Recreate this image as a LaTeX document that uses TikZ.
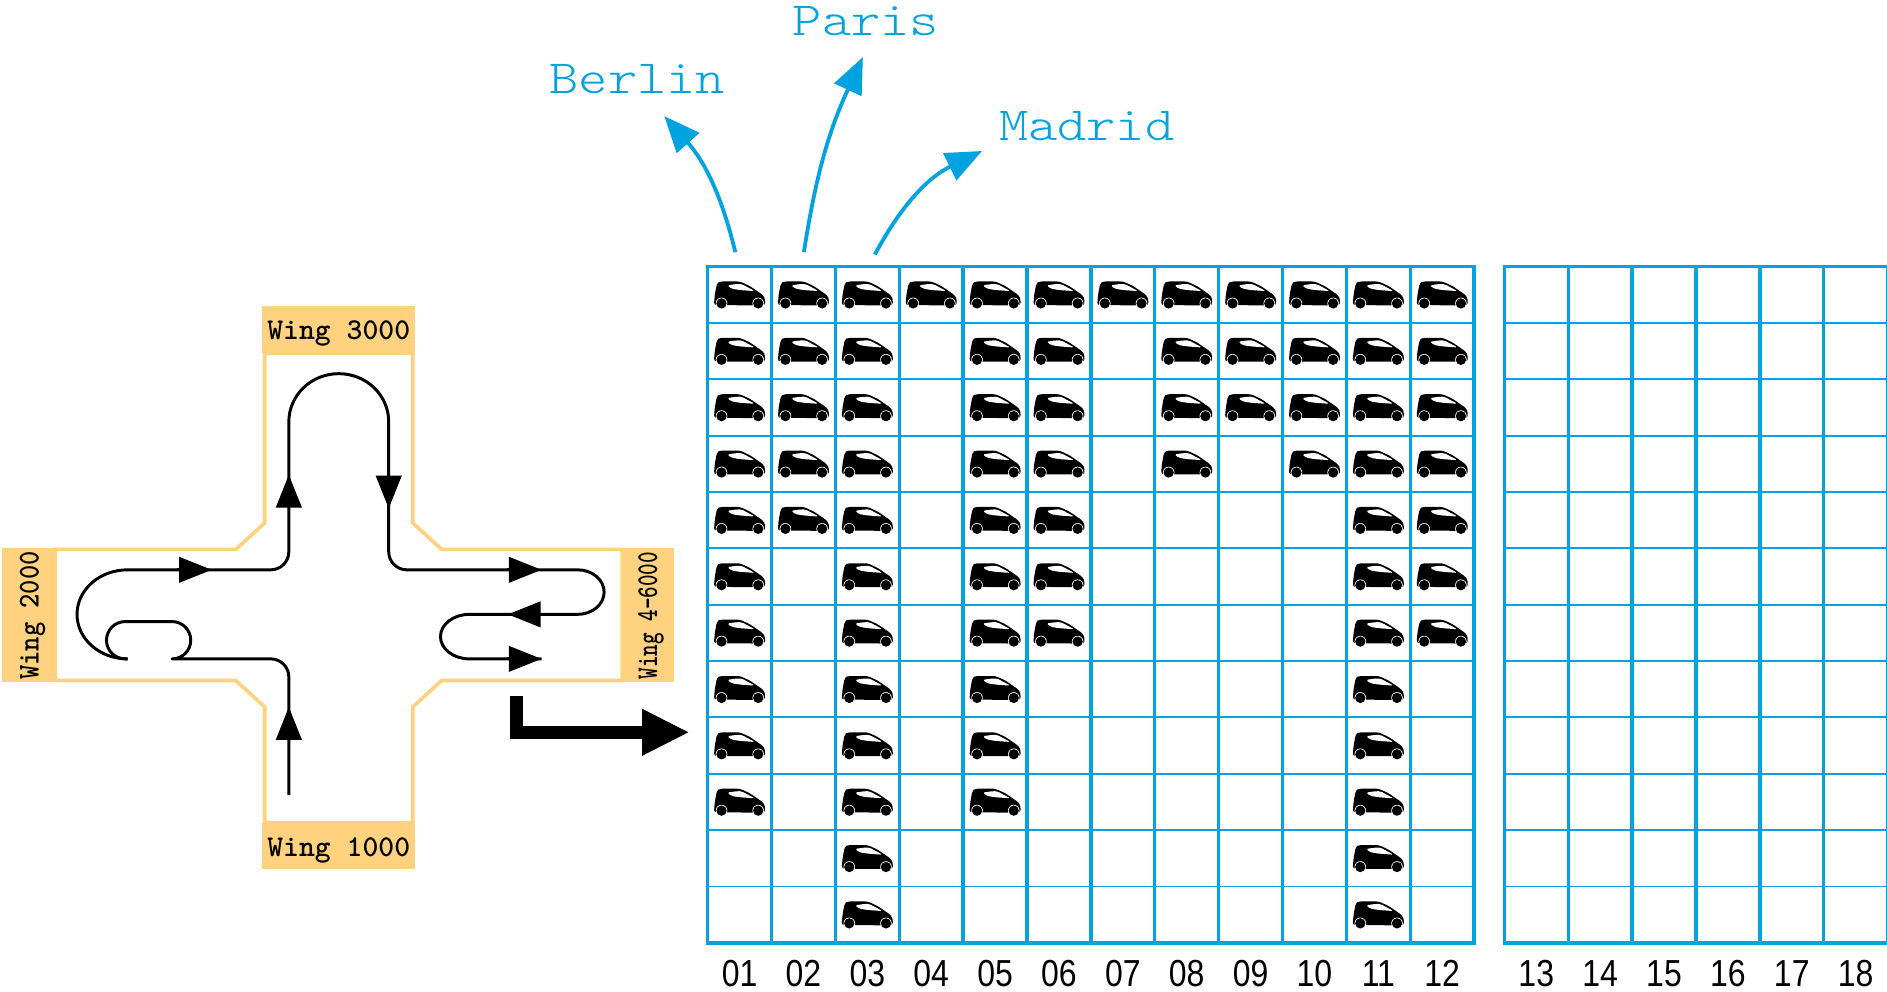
\documentclass[tikz,border=0pt]{standalone}
\usepackage{fontspec}
\usetikzlibrary{arrows.meta,calc,positioning}
\newfontfamily\colfont[FakeStretch=0.85]{Liberation Sans}
\definecolor{gridblue}{HTML}{00A3DF}
\definecolor{wingfill}{HTML}{FFD27F}
\tikzset{
	wingtext/.style={font=\fontsize{14.3}{16}\ttfamily\bfseries\addfontfeature{FakeBold=3},inner sep=0pt},
	citytext/.style={font=\fontsize{22.5}{26}\ttfamily\fontseries{l}\selectfont,text=gridblue,anchor=base,inner sep=0pt},
	coltext/.style={font=\fontsize{17.8}{20}\colfont,anchor=base,inner sep=0pt},
	flow/.style={line width=1.4pt,line join=round},
	flowtip/.style={line width=1.4pt,-{Triangle[length=15.5pt,width=12pt]}},
	cityarrow/.style={gridblue,line width=1.8pt,-{Triangle[length=17pt,width=14pt]}},
	exitarrow/.style={line width=6.2pt,-{Triangle[length=22.5pt,width=20.5pt]}},
	carpic/.pic={
		\fill[rounded corners=1.2pt] (-21.3,-8.6) -- (-20.6,0) -- (-18.8,9.4) -- (-16.3,11) -- (.3,11) -- (8.6,7.2) -- (19.7,-.5) -- (21.3,-3.9) -- (21,-8.9) -- cycle;
		\fill[white,rounded corners=.8pt] (-10.3,7.8) -- (-2.5,8.9) -- (1.7,8.9) -- (12.7,3) -- (.3,3.9) -- (-6.6,5) -- cycle;
		\foreach \wheelx in {-15,15.5}{
			\fill[white] (\wheelx,-7.2) circle (4.8);
			\fill (\wheelx,-7.2) circle (4.3);
		}
	}
}
\begin{document}
\begin{tikzpicture}[x=0.02cm,y=0.02cm]
	\useasboundingbox (0,0) rectangle (1568,823.5);
	% wings
	\draw[wingfill,line width=1.7pt,line join=miter] (220,530) -- (220,389) -- (196,367) -- (46,367) -- (46,258) -- (196,258) -- (220,236) -- (220,140) -- (343,140) -- (343,236) -- (367,258) -- (517,258) -- (517,367) -- (367,367) -- (343,389) -- (343,530) -- cycle;
	\fill[wingfill] (218,530) rectangle (345,569);
	\fill[wingfill] (218,101) rectangle (345,140);
	\fill[wingfill] (2,257) rectangle (46,368);
	\fill[wingfill] (517,257) rectangle (560,368);
	\node[wingtext] (wing3000) at (281.5,546) {Wing 3000};
	\node[wingtext] (wing1000) at (281.5,117) {Wing 1000};
	\node[wingtext,rotate=90] (wing2000) at (27,312) {\scalebox{.9}[1]{Wing 2000}};
	\node[wingtext,rotate=90] (wing4000) at (541,312) {\scalebox{.73}[1]{Wing 4-6000}};

	% route through the hall
	\coordinate (entry) at (240,163);
	\coordinate (loopend) at (106,276);
	\coordinate (exit) at (450,276);
	\draw[flow] (entry) -- (240,261) arc[start angle=0,end angle=90,radius=15] -- (143,276)
		arc[start angle=-90,end angle=90,radius=15.5] -- (104,307)
		arc[start angle=90,end angle=270,radius=15.5] -- (loopend);
	\draw[flow] (loopend) arc[start angle=270,end angle=90,x radius=42,y radius=37] -- (225,350)
		arc[start angle=-90,end angle=0,radius=15] -- (240,473)
		arc[start angle=180,end angle=0,x radius=41.5,y radius=40] -- (323,365)
		arc[start angle=180,end angle=270,radius=15] -- (480,350)
		arc[start angle=90,end angle=-90,x radius=22,y radius=18.5] -- (390,313)
		arc[start angle=90,end angle=270,x radius=24,y radius=18.5] -- (exit);
	\foreach \tipfrom/\tipto in {{(240,211)}/{(240,236)},{(147,350)}/{(176,350)},{(240,403)}/{(240,429)},{(323,427)}/{(323,401)},{(421,350)}/{(450,350)},{(451,313)}/{(422,313)},{(421,276)}/{(450,276)}}
		\draw[flowtip] \tipfrom -- \tipto;
	\coordinate (exitstart) at (429,245);
	\coordinate (exittip) at (573,215);
	\draw[exitarrow] (exitstart) |- (exittip);

	% cities
	\node[citytext] (berlin) at (529.5,746) {\scalebox{1.17}[1]{Berlin}};
	\node[citytext] (paris) at (719.5,794) {\scalebox{1.17}[1]{Paris}};
	\node[citytext] (madrid) at (903,707) {\scalebox{1.17}[1]{Madrid}};
	\coordinate (berlinfrom) at (611,614);
	\coordinate (berlinto) at (552,727);
	\coordinate (parisfrom) at (668,614);
	\coordinate (paristo) at (717,776);
	\coordinate (madridfrom) at (727,612);
	\coordinate (madridto) at (816,698);
	\draw[cityarrow] (berlinfrom) to[bend right=14] (berlinto);
	\draw[cityarrow] (parisfrom) to[bend left=8] (paristo);
	\draw[cityarrow] (madridfrom) to[bend left=18] (madridto);

	% racks
	\foreach \rowno in {1,...,11}{
		\draw[gridblue,line width=.9pt] (588,{602-46.83*\rowno}) -- (1225,{602-46.83*\rowno});
		\draw[gridblue,line width=.9pt] (1250,{602-46.83*\rowno}) -- (1568,{602-46.83*\rowno});
	}
	\foreach \colno in {1,...,11}
		\draw[gridblue,line width=1.6pt] ({588+53.08*\colno},40) -- ({588+53.08*\colno},602);
	\foreach \colno in {1,...,6}
		\draw[gridblue,line width=1.6pt] ({1250+53.08*\colno},40) -- ({1250+53.08*\colno},602);
	\draw[gridblue,line width=1.7pt] (588,40) rectangle (1225,602);
	\draw[gridblue,line width=1.7pt] (1580,40) -- (1250,40) -- (1250,602) -- (1580,602);
	\foreach \colno/\colname/\carcount in {1/01/10,2/02/5,3/03/12,4/04/1,5/05/10,6/06/7,7/07/1,8/08/4,9/09/3,10/10/4,11/11/12,12/12/7}{
		\node[coltext] (col\colname) at ({588+53.08*(\colno-.5)},3.5) {\colname};
		\foreach \rowno in {1,...,\carcount}
			\pic at ({588+53.08*(\colno-.5)},{602-46.83*(\rowno-.5)}) {carpic};
	}
	\foreach \colno in {13,...,18}
		\node[coltext] (col\colno) at ({1250+53.08*(\colno-12.5)},3.5) {\colno};
\end{tikzpicture}
\end{document}
